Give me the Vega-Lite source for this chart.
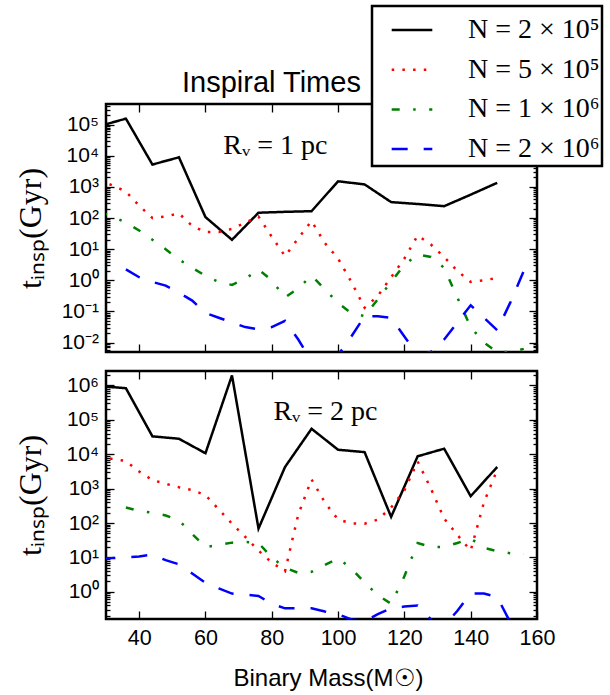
{
  "$schema": "https://vega.github.io/schema/vega-lite/v6.json",
  "background": "white",
  "padding": {"left": 12, "top": 4, "right": 0, "bottom": 0},
  "spacing": 15,
  "config": {
    "view": {"stroke": "black", "strokeWidth": 2.5},
    "axis": {"domain": false, "grid": false, "ticks": true, "minExtent": 0, "labelFlush": false, "tickColor": "black", "tickWidth": 1.3, "labelFont": "Liberation Sans", "labelFontSize": 21, "labelColor": "black", "titleFont": "Liberation Serif", "titleFontSize": 32, "titleFontWeight": "normal", "titleColor": "black"},
    "legend": {"strokeWidth": 2.5}
  },
  "datasets": {
    "top": [
      {"M":28,"t":89000,"N":"2e5"},{"M":36,"t":155000,"N":"2e5"},{"M":44,"t":5200,"N":"2e5"},{"M":52,"t":8900,"N":"2e5"},{"M":60,"t":107,"N":"2e5"},{"M":68,"t":20,"N":"2e5"},{"M":76,"t":148,"N":"2e5"},{"M":84,"t":158,"N":"2e5"},{"M":92,"t":166,"N":"2e5"},{"M":100,"t":1510,"N":"2e5"},{"M":108,"t":1200,"N":"2e5"},{"M":116,"t":324,"N":"2e5"},{"M":124,"t":282,"N":"2e5"},{"M":132,"t":240,"N":"2e5"},{"M":140,"t":562,"N":"2e5"},{"M":148,"t":1350,"N":"2e5"},
      {"M":28,"t":1580,"N":"5e5"},{"M":32,"t":1120,"N":"5e5"},{"M":36,"t":708,"N":"5e5"},{"M":40,"t":251,"N":"5e5"},{"M":44,"t":100,"N":"5e5"},{"M":48,"t":112,"N":"5e5"},{"M":52,"t":141,"N":"5e5"},{"M":56,"t":56,"N":"5e5"},{"M":60,"t":35.5,"N":"5e5"},{"M":64,"t":35.5,"N":"5e5"},{"M":68,"t":44.7,"N":"5e5"},{"M":72,"t":70.8,"N":"5e5"},{"M":76,"t":112,"N":"5e5"},{"M":80,"t":25.1,"N":"5e5"},{"M":84,"t":6.0,"N":"5e5"},{"M":88,"t":22.4,"N":"5e5"},{"M":92,"t":79.4,"N":"5e5"},{"M":96,"t":15.8,"N":"5e5"},{"M":100,"t":5.0,"N":"5e5"},{"M":104,"t":0.89,"N":"5e5"},{"M":108,"t":0.132,"N":"5e5"},{"M":112,"t":0.316,"N":"5e5"},{"M":116,"t":1.26,"N":"5e5"},{"M":120,"t":5.0,"N":"5e5"},{"M":124,"t":27.5,"N":"5e5"},{"M":128,"t":14.1,"N":"5e5"},{"M":132,"t":5.6,"N":"5e5"},{"M":136,"t":2.0,"N":"5e5"},{"M":140,"t":0.89,"N":"5e5"},{"M":144,"t":1.0,"N":"5e5"},{"M":148,"t":1.2,"N":"5e5"},
      {"M":28,"t":158,"N":"1e6"},{"M":32,"t":112,"N":"1e6"},{"M":36,"t":70.8,"N":"1e6"},{"M":40,"t":39.8,"N":"1e6"},{"M":44,"t":20,"N":"1e6"},{"M":48,"t":10,"N":"1e6"},{"M":52,"t":4.68,"N":"1e6"},{"M":56,"t":2.51,"N":"1e6"},{"M":60,"t":1.41,"N":"1e6"},{"M":64,"t":0.89,"N":"1e6"},{"M":68,"t":0.71,"N":"1e6"},{"M":72,"t":1.12,"N":"1e6"},{"M":76,"t":2.24,"N":"1e6"},{"M":80,"t":1.0,"N":"1e6"},{"M":84,"t":0.28,"N":"1e6"},{"M":88,"t":0.56,"N":"1e6"},{"M":92,"t":1.41,"N":"1e6"},{"M":96,"t":0.52,"N":"1e6"},{"M":100,"t":0.186,"N":"1e6"},{"M":104,"t":0.089,"N":"1e6"},{"M":108,"t":0.071,"N":"1e6"},{"M":112,"t":0.25,"N":"1e6"},{"M":116,"t":0.89,"N":"1e6"},{"M":120,"t":3.16,"N":"1e6"},{"M":124,"t":6.76,"N":"1e6"},{"M":128,"t":5.62,"N":"1e6"},{"M":132,"t":2.51,"N":"1e6"},{"M":136,"t":0.275,"N":"1e6"},{"M":140,"t":0.0316,"N":"1e6"},{"M":144,"t":0.01,"N":"1e6"},{"M":148,"t":0.005,"N":"1e6"},{"M":152,"t":0.005,"N":"1e6"},{"M":156,"t":0.0063,"N":"1e6"},
      {"M":36,"t":2.24,"N":"2e6"},{"M":40,"t":1.26,"N":"2e6"},{"M":44,"t":0.89,"N":"2e6"},{"M":48,"t":0.676,"N":"2e6"},{"M":52,"t":0.398,"N":"2e6"},{"M":56,"t":0.224,"N":"2e6"},{"M":60,"t":0.089,"N":"2e6"},{"M":64,"t":0.063,"N":"2e6"},{"M":68,"t":0.0447,"N":"2e6"},{"M":72,"t":0.0316,"N":"2e6"},{"M":76,"t":0.0269,"N":"2e6"},{"M":80,"t":0.0316,"N":"2e6"},{"M":84,"t":0.05,"N":"2e6"},{"M":88,"t":0.0126,"N":"2e6"},{"M":92,"t":0.0025,"N":"2e6"},{"M":96,"t":0.001,"N":"2e6"},{"M":100,"t":0.004,"N":"2e6"},{"M":104,"t":0.0158,"N":"2e6"},{"M":108,"t":0.0708,"N":"2e6"},{"M":112,"t":0.0708,"N":"2e6"},{"M":116,"t":0.063,"N":"2e6"},{"M":120,"t":0.0158,"N":"2e6"},{"M":124,"t":0.004,"N":"2e6"},{"M":128,"t":0.005,"N":"2e6"},{"M":132,"t":0.0126,"N":"2e6"},{"M":136,"t":0.0447,"N":"2e6"},{"M":140,"t":0.158,"N":"2e6"},{"M":144,"t":0.063,"N":"2e6"},{"M":148,"t":0.0251,"N":"2e6"},{"M":152,"t":0.2,"N":"2e6"},{"M":156,"t":2.0,"N":"2e6"}
    ],
    "bottom": [
      {"M":28,"t":955000,"N":"2e5"},{"M":36,"t":832000,"N":"2e5"},{"M":44,"t":33100,"N":"2e5"},{"M":52,"t":28200,"N":"2e5"},{"M":60,"t":10700,"N":"2e5"},{"M":68,"t":1950000,"N":"2e5"},{"M":76,"t":69,"N":"2e5"},{"M":84,"t":4270,"N":"2e5"},{"M":92,"t":55000,"N":"2e5"},{"M":100,"t":13500,"N":"2e5"},{"M":108,"t":11500,"N":"2e5"},{"M":116,"t":151,"N":"2e5"},{"M":124,"t":8710,"N":"2e5"},{"M":132,"t":14500,"N":"2e5"},{"M":140,"t":603,"N":"2e5"},{"M":148,"t":4270,"N":"2e5"},
      {"M":28,"t":7080,"N":"5e5"},{"M":32,"t":7410,"N":"5e5"},{"M":36,"t":6310,"N":"5e5"},{"M":40,"t":3160,"N":"5e5"},{"M":44,"t":1780,"N":"5e5"},{"M":48,"t":1380,"N":"5e5"},{"M":52,"t":1100,"N":"5e5"},{"M":56,"t":912,"N":"5e5"},{"M":60,"t":646,"N":"5e5"},{"M":64,"t":251,"N":"5e5"},{"M":68,"t":95.5,"N":"5e5"},{"M":72,"t":39.8,"N":"5e5"},{"M":76,"t":15.8,"N":"5e5"},{"M":80,"t":7.08,"N":"5e5"},{"M":84,"t":3.98,"N":"5e5"},{"M":88,"t":178,"N":"5e5"},{"M":92,"t":1860,"N":"5e5"},{"M":96,"t":398,"N":"5e5"},{"M":100,"t":126,"N":"5e5"},{"M":104,"t":97.7,"N":"5e5"},{"M":108,"t":95.5,"N":"5e5"},{"M":112,"t":126,"N":"5e5"},{"M":116,"t":282,"N":"5e5"},{"M":120,"t":891,"N":"5e5"},{"M":124,"t":6170,"N":"5e5"},{"M":128,"t":1000,"N":"5e5"},{"M":132,"t":135,"N":"5e5"},{"M":136,"t":44.7,"N":"5e5"},{"M":140,"t":15.8,"N":"5e5"},{"M":144,"t":398,"N":"5e5"},{"M":148,"t":3550,"N":"5e5"},
      {"M":36,"t":282,"N":"1e6"},{"M":40,"t":224,"N":"1e6"},{"M":44,"t":200,"N":"1e6"},{"M":48,"t":166,"N":"1e6"},{"M":52,"t":120,"N":"1e6"},{"M":56,"t":47.9,"N":"1e6"},{"M":60,"t":20,"N":"1e6"},{"M":64,"t":22.9,"N":"1e6"},{"M":68,"t":26.9,"N":"1e6"},{"M":72,"t":28.2,"N":"1e6"},{"M":76,"t":26.3,"N":"1e6"},{"M":80,"t":10,"N":"1e6"},{"M":84,"t":5.0,"N":"1e6"},{"M":88,"t":3.55,"N":"1e6"},{"M":92,"t":3.8,"N":"1e6"},{"M":96,"t":6.03,"N":"1e6"},{"M":100,"t":9.33,"N":"1e6"},{"M":104,"t":4.79,"N":"1e6"},{"M":108,"t":1.86,"N":"1e6"},{"M":112,"t":0.79,"N":"1e6"},{"M":116,"t":0.45,"N":"1e6"},{"M":120,"t":2.82,"N":"1e6"},{"M":124,"t":26.3,"N":"1e6"},{"M":128,"t":20,"N":"1e6"},{"M":132,"t":20,"N":"1e6"},{"M":136,"t":26.3,"N":"1e6"},{"M":140,"t":35.5,"N":"1e6"},{"M":144,"t":19.1,"N":"1e6"},{"M":148,"t":15.1,"N":"1e6"},{"M":152,"t":13.2,"N":"1e6"},{"M":156,"t":12.6,"N":"1e6"},
      {"M":28,"t":9.33,"N":"2e6"},{"M":32,"t":9.55,"N":"2e6"},{"M":36,"t":10,"N":"2e6"},{"M":40,"t":10.7,"N":"2e6"},{"M":44,"t":12,"N":"2e6"},{"M":48,"t":8.32,"N":"2e6"},{"M":52,"t":6.31,"N":"2e6"},{"M":56,"t":3.39,"N":"2e6"},{"M":60,"t":1.82,"N":"2e6"},{"M":64,"t":1.26,"N":"2e6"},{"M":68,"t":0.89,"N":"2e6"},{"M":72,"t":0.83,"N":"2e6"},{"M":76,"t":0.76,"N":"2e6"},{"M":80,"t":0.447,"N":"2e6"},{"M":84,"t":0.331,"N":"2e6"},{"M":88,"t":0.331,"N":"2e6"},{"M":92,"t":0.331,"N":"2e6"},{"M":96,"t":0.269,"N":"2e6"},{"M":100,"t":0.224,"N":"2e6"},{"M":104,"t":0.158,"N":"2e6"},{"M":108,"t":0.141,"N":"2e6"},{"M":112,"t":0.224,"N":"2e6"},{"M":116,"t":0.331,"N":"2e6"},{"M":120,"t":0.372,"N":"2e6"},{"M":124,"t":0.398,"N":"2e6"},{"M":128,"t":0.158,"N":"2e6"},{"M":132,"t":0.1,"N":"2e6"},{"M":136,"t":0.282,"N":"2e6"},{"M":140,"t":0.89,"N":"2e6"},{"M":144,"t":0.89,"N":"2e6"},{"M":148,"t":0.708,"N":"2e6"},{"M":152,"t":0.126,"N":"2e6"}
    ]
  },
  "vconcat": [
    {
      "width": 431, "height": 248,
      "title": {"text": "Inspiral Times", "anchor": "start", "frame": "group", "dx": 76, "offset": -18, "baseline": "alphabetic", "font": "Liberation Sans", "fontSize": 29, "fontWeight": "normal", "color": "black"},
      "data": {"name": "top"},
      "layer": [
        {
          "mark": {"type": "line", "clip": true, "strokeWidth": 2.5},
          "encoding": {
            "x": {"field": "M", "type": "quantitative", "scale": {"domain": [30, 160], "nice": false, "zero": false}, "axis": {"orient": "bottom", "values": [40, 60, 80, 100, 120, 140, 160], "labels": false, "tickSize": -8, "title": null}},
            "y": {"field": "t", "type": "quantitative", "scale": {"type": "log", "domain": [0.00501, 457000], "nice": false}, "axis": {"orient": "left", "values": [0.01, 0.1, 1, 10, 100, 1000, 10000, 100000], "tickSize": -8, "labelPadding": 15.5, "labelExpr": "'10' + (datum.value < 1 ? '⁻' : '') + substring('⁰¹²³⁴⁵⁶⁷⁸⁹', abs(round(log(datum.value) / LN10)), abs(round(log(datum.value) / LN10)) + 1)", "title": "tᵢₙₛₚ(Gyr)", "titleX": -76, "titleY": 124, "titleAngle": -90, "titleAlign": "center", "titleBaseline": "middle"}},
            "color": {"field": "N", "type": "nominal", "scale": {"domain": ["2e5", "5e5", "1e6", "2e6"], "range": ["black", "red", "green", "blue"]}, "legend": {"orient": "none", "legendX": 266, "legendY": -98, "title": null, "strokeColor": "black", "fillColor": "white", "padding": 2, "symbolOffset": 16, "rowPadding": 3.7, "symbolType": "stroke", "symbolSize": 1650, "symbolStrokeWidth": 2.5, "labelOffset": 34, "labelFont": "Liberation Serif", "labelFontSize": 28, "labelColor": "black", "labelLimit": 400, "zindex": 5, "labelExpr": "datum.label == '2e5' ? 'N = 2 × 10⁵   ' : datum.label == '5e5' ? 'N = 5 × 10⁵   ' : datum.label == '1e6' ? 'N = 1 × 10⁶   ' : 'N = 2 × 10⁶   '"}},
            "strokeDash": {"field": "N", "type": "nominal", "scale": {"domain": ["2e5", "5e5", "1e6", "2e6"], "range": [[1, 0], [2.5, 8.2], [8, 13.5, 2.5, 13.5], [16, 16]]}, "legend": {"orient": "none", "legendX": 266, "legendY": -98, "title": null, "strokeColor": "black", "fillColor": "white", "padding": 2, "symbolOffset": 16, "rowPadding": 3.7, "symbolType": "stroke", "symbolSize": 1650, "symbolStrokeWidth": 2.5, "labelOffset": 34, "labelFont": "Liberation Serif", "labelFontSize": 28, "labelColor": "black", "labelLimit": 400, "zindex": 5, "labelExpr": "datum.label == '2e5' ? 'N = 2 × 10⁵   ' : datum.label == '5e5' ? 'N = 5 × 10⁵   ' : datum.label == '1e6' ? 'N = 1 × 10⁶   ' : 'N = 2 × 10⁶   '"}}
          }
        },
        {
          "mark": {"type": "line", "opacity": 0, "clip": true},
          "encoding": {
            "x": {"field": "M", "type": "quantitative", "scale": {"domain": [30, 160], "nice": false, "zero": false}, "axis": {"orient": "top", "values": [40, 60, 80, 100, 120, 140, 160], "labels": false, "tickSize": -8, "title": null}},
            "y": {"field": "t", "type": "quantitative", "scale": {"type": "log", "domain": [0.00501, 457000], "nice": false}, "axis": {"orient": "left", "values": [0.006, 0.007, 0.008, 0.009, 0.02, 0.03, 0.04, 0.05, 0.06, 0.07, 0.08, 0.09, 0.2, 0.3, 0.4, 0.5, 0.6, 0.7, 0.8, 0.9, 2, 3, 4, 5, 6, 7, 8, 9, 20, 30, 40, 50, 60, 70, 80, 90, 200, 300, 400, 500, 600, 700, 800, 900, 2000, 3000, 4000, 5000, 6000, 7000, 8000, 9000, 20000, 30000, 40000, 50000, 60000, 70000, 80000, 90000, 200000, 300000, 400000], "labels": false, "tickSize": -4, "title": null}}
          }
        },
        {
          "mark": {"type": "line", "opacity": 0, "clip": true},
          "encoding": {
            "x": {"field": "M", "type": "quantitative", "scale": {"domain": [30, 160], "nice": false, "zero": false}, "axis": null},
            "y": {"field": "t", "type": "quantitative", "scale": {"type": "log", "domain": [0.00501, 457000], "nice": false}, "axis": {"orient": "right", "values": [0.01, 0.1, 1, 10, 100, 1000, 10000, 100000], "labels": false, "tickSize": -8, "title": null}}
          }
        },
        {
          "mark": {"type": "line", "opacity": 0, "clip": true},
          "encoding": {
            "x": {"field": "M", "type": "quantitative", "scale": {"domain": [30, 160], "nice": false, "zero": false}, "axis": null},
            "y": {"field": "t", "type": "quantitative", "scale": {"type": "log", "domain": [0.00501, 457000], "nice": false}, "axis": {"orient": "right", "values": [0.006, 0.007, 0.008, 0.009, 0.02, 0.03, 0.04, 0.05, 0.06, 0.07, 0.08, 0.09, 0.2, 0.3, 0.4, 0.5, 0.6, 0.7, 0.8, 0.9, 2, 3, 4, 5, 6, 7, 8, 9, 20, 30, 40, 50, 60, 70, 80, 90, 200, 300, 400, 500, 600, 700, 800, 900, 2000, 3000, 4000, 5000, 6000, 7000, 8000, 9000, 20000, 30000, 40000, 50000, 60000, 70000, 80000, 90000, 200000, 300000, 400000], "labels": false, "tickSize": -4, "title": null}}
          }
        },
        {
          "data": {"values": [{"M": 65.4, "t": 11000, "label": "Rᵥ = 1 pc"}]},
          "mark": {"type": "text", "align": "left", "baseline": "alphabetic", "font": "Liberation Serif", "fontSize": 28, "color": "black"},
          "encoding": {
            "x": {"field": "M", "type": "quantitative", "scale": {"domain": [30, 160], "nice": false, "zero": false}, "axis": null},
            "y": {"field": "t", "type": "quantitative", "scale": {"type": "log", "domain": [0.00501, 457000], "nice": false}, "axis": null},
            "text": {"field": "label"}
          }
        }
      ],
      "resolve": {"axis": {"x": "independent", "y": "independent"}}
    },
    {
      "width": 431, "height": 248,
      "data": {"name": "bottom"},
      "layer": [
        {
          "mark": {"type": "line", "clip": true, "strokeWidth": 2.5},
          "encoding": {
            "x": {"field": "M", "type": "quantitative", "scale": {"domain": [30, 160], "nice": false, "zero": false}, "axis": {"orient": "bottom", "values": [40, 60, 80, 100, 120, 140, 160], "tickSize": -8, "labelPadding": 16, "labelFontSize": 21.5, "title": "Binary Mass(M☉)", "titleFont": "Liberation Sans", "titleFontSize": 24, "titleX": 222, "titleY": 66, "titleBaseline": "alphabetic", "titleAlign": "center"}},
            "y": {"field": "t", "type": "quantitative", "scale": {"type": "log", "domain": [0.162, 2630000], "nice": false}, "axis": {"orient": "left", "values": [1, 10, 100, 1000, 10000, 100000, 1000000], "tickSize": -8, "labelPadding": 15.5, "labelExpr": "'10' + (datum.value < 1 ? '⁻' : '') + substring('⁰¹²³⁴⁵⁶⁷⁸⁹', abs(round(log(datum.value) / LN10)), abs(round(log(datum.value) / LN10)) + 1)", "title": "tᵢₙₛₚ(Gyr)", "titleX": -76, "titleY": 124, "titleAngle": -90, "titleAlign": "center", "titleBaseline": "middle"}},
            "color": {"field": "N", "type": "nominal", "scale": {"domain": ["2e5", "5e5", "1e6", "2e6"], "range": ["black", "red", "green", "blue"]}, "legend": {"orient": "none", "legendX": 266, "legendY": -98, "title": null, "strokeColor": "black", "fillColor": "white", "padding": 2, "symbolOffset": 16, "rowPadding": 3.7, "symbolType": "stroke", "symbolSize": 1650, "symbolStrokeWidth": 2.5, "labelOffset": 34, "labelFont": "Liberation Serif", "labelFontSize": 28, "labelColor": "black", "labelLimit": 400, "zindex": 5, "labelExpr": "datum.label == '2e5' ? 'N = 2 × 10⁵   ' : datum.label == '5e5' ? 'N = 5 × 10⁵   ' : datum.label == '1e6' ? 'N = 1 × 10⁶   ' : 'N = 2 × 10⁶   '"}},
            "strokeDash": {"field": "N", "type": "nominal", "scale": {"domain": ["2e5", "5e5", "1e6", "2e6"], "range": [[1, 0], [2.5, 8.2], [8, 13.5, 2.5, 13.5], [16, 16]]}, "legend": {"orient": "none", "legendX": 266, "legendY": -98, "title": null, "strokeColor": "black", "fillColor": "white", "padding": 2, "symbolOffset": 16, "rowPadding": 3.7, "symbolType": "stroke", "symbolSize": 1650, "symbolStrokeWidth": 2.5, "labelOffset": 34, "labelFont": "Liberation Serif", "labelFontSize": 28, "labelColor": "black", "labelLimit": 400, "zindex": 5, "labelExpr": "datum.label == '2e5' ? 'N = 2 × 10⁵   ' : datum.label == '5e5' ? 'N = 5 × 10⁵   ' : datum.label == '1e6' ? 'N = 1 × 10⁶   ' : 'N = 2 × 10⁶   '"}}
          }
        },
        {
          "mark": {"type": "line", "opacity": 0, "clip": true},
          "encoding": {
            "x": {"field": "M", "type": "quantitative", "scale": {"domain": [30, 160], "nice": false, "zero": false}, "axis": {"orient": "top", "values": [40, 60, 80, 100, 120, 140, 160], "labels": false, "tickSize": -8, "title": null}},
            "y": {"field": "t", "type": "quantitative", "scale": {"type": "log", "domain": [0.162, 2630000], "nice": false}, "axis": {"orient": "left", "values": [0.2, 0.3, 0.4, 0.5, 0.6, 0.7, 0.8, 0.9, 2, 3, 4, 5, 6, 7, 8, 9, 20, 30, 40, 50, 60, 70, 80, 90, 200, 300, 400, 500, 600, 700, 800, 900, 2000, 3000, 4000, 5000, 6000, 7000, 8000, 9000, 20000, 30000, 40000, 50000, 60000, 70000, 80000, 90000, 200000, 300000, 400000, 500000, 600000, 700000, 800000, 900000, 2000000], "labels": false, "tickSize": -4, "title": null}}
          }
        },
        {
          "mark": {"type": "line", "opacity": 0, "clip": true},
          "encoding": {
            "x": {"field": "M", "type": "quantitative", "scale": {"domain": [30, 160], "nice": false, "zero": false}, "axis": null},
            "y": {"field": "t", "type": "quantitative", "scale": {"type": "log", "domain": [0.162, 2630000], "nice": false}, "axis": {"orient": "right", "values": [1, 10, 100, 1000, 10000, 100000, 1000000], "labels": false, "tickSize": -8, "title": null}}
          }
        },
        {
          "mark": {"type": "line", "opacity": 0, "clip": true},
          "encoding": {
            "x": {"field": "M", "type": "quantitative", "scale": {"domain": [30, 160], "nice": false, "zero": false}, "axis": null},
            "y": {"field": "t", "type": "quantitative", "scale": {"type": "log", "domain": [0.162, 2630000], "nice": false}, "axis": {"orient": "right", "values": [0.2, 0.3, 0.4, 0.5, 0.6, 0.7, 0.8, 0.9, 2, 3, 4, 5, 6, 7, 8, 9, 20, 30, 40, 50, 60, 70, 80, 90, 200, 300, 400, 500, 600, 700, 800, 900, 2000, 3000, 4000, 5000, 6000, 7000, 8000, 9000, 20000, 30000, 40000, 50000, 60000, 70000, 80000, 90000, 200000, 300000, 400000, 500000, 600000, 700000, 800000, 900000, 2000000], "labels": false, "tickSize": -4, "title": null}}
          }
        },
        {
          "data": {"values": [{"M": 80.5, "t": 100000, "label": "Rᵥ = 2 pc"}]},
          "mark": {"type": "text", "align": "left", "baseline": "alphabetic", "font": "Liberation Serif", "fontSize": 28, "color": "black"},
          "encoding": {
            "x": {"field": "M", "type": "quantitative", "scale": {"domain": [30, 160], "nice": false, "zero": false}, "axis": null},
            "y": {"field": "t", "type": "quantitative", "scale": {"type": "log", "domain": [0.162, 2630000], "nice": false}, "axis": null},
            "text": {"field": "label"}
          }
        }
      ],
      "resolve": {"axis": {"x": "independent", "y": "independent"}}
    }
  ]
}
